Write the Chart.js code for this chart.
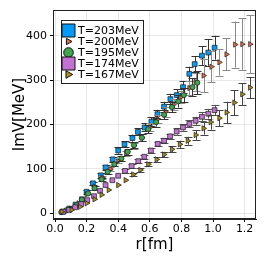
<!DOCTYPE html>
<html><head><meta charset="utf-8">
<script src="https://cdn.jsdelivr.net/npm/chart.js@4/dist/chart.umd.min.js"></script>
<style>html,body{margin:0;padding:0;background:#fff}#w{width:266px;height:266px;position:relative}</style>
</head><body><div id="w"><canvas id="c"></canvas></div>
<script>
const seriesLabels = ["T=203MeV","T=200MeV","T=195MeV","T=174MeV","T=167MeV"];

const r203 = [0.05,0.09,0.13,0.17,0.20,0.24,0.29,0.32,0.365,0.40,0.44,0.49,0.525,0.567,0.61,0.648,0.69,0.73,0.77,0.81,0.85,0.884,0.93,0.97,1.01];
const v203 = [3,10,19,31,48,67,85,103,121,141,155,169,183,193,206,223,240,257,266,284,314,336,355,362,373];
const e203 = [1,2,2,3,4,4,5,5,6,7,7,8,8,9,10,10,11,12,13,14,16,18,21,30,27];

const r200 = [0.05,0.10,0.15,0.20,0.25,0.30,0.35,0.40,0.45,0.50,0.55,0.60,0.65,0.70,0.75,0.80,0.85,0.89,0.94,0.99,1.04,1.085,1.14,1.185,1.235];
const v200 = [3,10,22,42,60,80,99,117,135,152,170,193,212,228,245,262,282,296,310,330,340,358,380,381,381];
const e200 = [1,2,2,3,3,4,5,5,6,7,8,9,10,11,12,14,16,20,38,35,30,36,52,58,65];

const r195 = [0.04,0.07,0.10,0.137,0.17,0.21,0.25,0.295,0.333,0.375,0.42,0.46,0.50,0.55,0.59,0.64,0.69,0.74,0.78,0.815,0.87,0.90];
const v195 = [2,6,9,18,30,44,56,76,93,110,123,138,153,170,189,205,222,239,252,266,284,294];
const e195 = [1,1,2,2,3,3,4,4,5,5,6,6,7,8,9,10,11,12,14,16,20,26];

const r174 = [0.053,0.089,0.127,0.165,0.204,0.247,0.285,0.32,0.363,0.40,0.443,0.485,0.527,0.565,0.607,0.65,0.69,0.728,0.77,0.81,0.85,0.89,0.93,0.97,1.01];
const v174 = [3,7,13,20,29,38,50,63,74,84,95,106,117,127,141,156,163,173,184,193,201,208,217,224,232];
const e174 = [1,1,1,2,2,2,3,3,3,3,4,4,4,5,5,5,6,6,7,7,8,9,10,11,12];

const r167 = [0.042,0.105,0.158,0.20,0.25,0.295,0.34,0.40,0.447,0.495,0.54,0.59,0.643,0.69,0.74,0.79,0.84,0.89,0.94,0.985,1.04,1.086,1.135,1.185,1.234];
const v167 = [3,7,14,22,31,41,52,63,74,87,97,110,121,132,144,155,163,176,191,205,214,227,249,268,283];
const e167 = [1,1,1,2,2,2,3,3,3,4,4,5,5,6,7,8,9,11,14,17,18,24,28,25,24];

const xTickValues = [0.0,0.2,0.4,0.6,0.8,1.0,1.2];
const yTickValues = [0,100,200,300,400];

const rs = [r203,r200,r195,r174,r167];
const vs = [v203,v200,v195,v174,v167];
const es = [e203,e200,e195,e174,e167];
const colors = ["#009AFA","#E36F47","#3EA44E","#C371D2","#AC8E18"];
const styles = ["rect","triangle","circle","rect","triangle"];
const radii = [3.4,3.0,2.6,3.4,3.1];
const rot = [0,90,0,0,90];
const errColors = ["#333","#8a8a8a","#333","#555","#444"];
const legendSizes = [6.5,3.5,4.8,6.5,4.2];

const datasets = seriesLabels.map((lab,i)=>({
  label: lab,
  data: rs[i].map((x,j)=>({x:x,y:vs[i][j]})),
  backgroundColor: colors[i],
  borderColor: "#1a1a1a",
  borderWidth: 0.7,
  pointStyle: styles[i],
  pointRadius: radii[i],
  pointRotation: rot[i],
  showLine: false,
  order: 5-i,
  errs: es[i],
  errColor: errColors[i]
}));

const errorBars = {
  id: "errorBars",
  beforeDatasetDraw(chart, args) {
    const i = args.index, ds = chart.data.datasets[i], meta = chart.getDatasetMeta(i);
    const ys = chart.scales.y, ca = chart.chartArea, ctx = chart.ctx;
    ctx.save();
    ctx.beginPath(); ctx.rect(ca.left, ca.top, ca.right-ca.left, ca.bottom-ca.top); ctx.clip();
    ctx.strokeStyle = ds.errColor; ctx.lineWidth = 1;
    meta.data.forEach((p,j)=>{
      const v = ds.data[j].y, e = ds.errs[j];
      const t = ys.getPixelForValue(v+e), b = ys.getPixelForValue(v-e);
      const x = Math.round(p.x)+0.5;
      ctx.beginPath();
      ctx.moveTo(x,t); ctx.lineTo(x,b);
      if (b - t > 3) {
        ctx.moveTo(x-4,Math.round(t)+0.5); ctx.lineTo(x+4,Math.round(t)+0.5);
        ctx.moveTo(x-4,Math.round(b)+0.5); ctx.lineTo(x+4,Math.round(b)+0.5);
      }
      ctx.stroke();
    });
    ctx.restore();
  }
};

const frameAndLegend = {
  id: "frameAndLegend",
  afterDraw(chart) {
    const ctx = chart.ctx, ca = chart.chartArea;
    ctx.save();
    ctx.strokeStyle = "#222"; ctx.lineWidth = 1;
    ctx.strokeRect(Math.round(ca.left)+0.5, Math.round(ca.top)+0.5, Math.round(ca.right-ca.left)-1, Math.round(ca.bottom-ca.top)-1);
    // legend
    const lx = ca.left + 8, ly = ca.top + 10, lw = 82, lh = 63;
    ctx.fillStyle = "#fff";
    ctx.fillRect(lx, ly, lw, lh);
    ctx.strokeStyle = "#222";
    ctx.strokeRect(lx+0.5, ly+0.5, lw, lh);
    ctx.font = "11px 'DejaVu Sans'";
    ctx.textBaseline = "middle";
    chart.data.datasets.forEach((ds,i)=>{
      const cy = ly + 10.5 + i*11;
      const cx = lx + 7.5;
      const s = legendSizes[i];
      ctx.fillStyle = ds.backgroundColor;
      ctx.strokeStyle = "#111";
      ctx.lineWidth = 1;
      ctx.beginPath();
      if (ds.pointStyle === "rect") {
        ctx.rect(cx - s, cy - s, 2*s, 2*s);
      } else if (ds.pointStyle === "circle") {
        ctx.arc(cx, cy, s, 0, Math.PI*2);
      } else {
        ctx.moveTo(cx + s, cy);
        ctx.lineTo(cx - s*0.6, cy - s*0.9);
        ctx.lineTo(cx - s*0.6, cy + s*0.9);
        ctx.closePath();
      }
      ctx.fill(); ctx.stroke();
      ctx.fillStyle = "#000";
      ctx.fillText(ds.label, lx + 17, cy + 0.5);
    });
    ctx.restore();
  }
};

new Chart(document.getElementById("c"), {
  type: "scatter",
  data: { datasets },
  plugins: [errorBars, frameAndLegend],
  options: {
    responsive: true, maintainAspectRatio: false, animation: false, devicePixelRatio: 1,
    layout: { padding: { left: 0, right: 10, top: 10, bottom: 0 } },
    plugins: { legend: { display: false }, tooltip: { enabled: false } },
    scales: {
      x: {
        type: "linear", min: -0.0127, max: 1.272,
        afterBuildTicks: s => { s.ticks = xTickValues.map(v=>({value:v})); },
        afterFit: s => { s.height = 47; },
        ticks: { callback: v => Number(v).toFixed(1), font: { family: "DejaVu Sans", size: 11 }, color: "#000", padding: 1, maxRotation: 0 },
        grid: { color: "rgba(0,0,0,0.09)", tickColor: "#000", tickLength: 3 },
        border: { color: "#222" },
        title: { display: true, text: "r[fm]", font: { family: "DejaVu Sans", size: 15 }, color: "#000", padding: { top: 0, bottom: 12 } }
      },
      y: {
        type: "linear", min: -13.5, max: 458,
        afterBuildTicks: s => { s.ticks = yTickValues.map(v=>({value:v})); },
        afterFit: s => { s.width = 53; },
        ticks: { font: { family: "DejaVu Sans", size: 11 }, color: "#000", padding: 3 },
        grid: { color: "rgba(0,0,0,0.09)", tickColor: "#000", tickLength: 3 },
        border: { color: "#222" },
        title: { display: true, text: "ImV[MeV]", font: { family: "DejaVu Sans", size: 15 }, color: "#000", padding: { top: 11, bottom: 0 } }
      }
    }
  }
});
</script>
</body></html>
